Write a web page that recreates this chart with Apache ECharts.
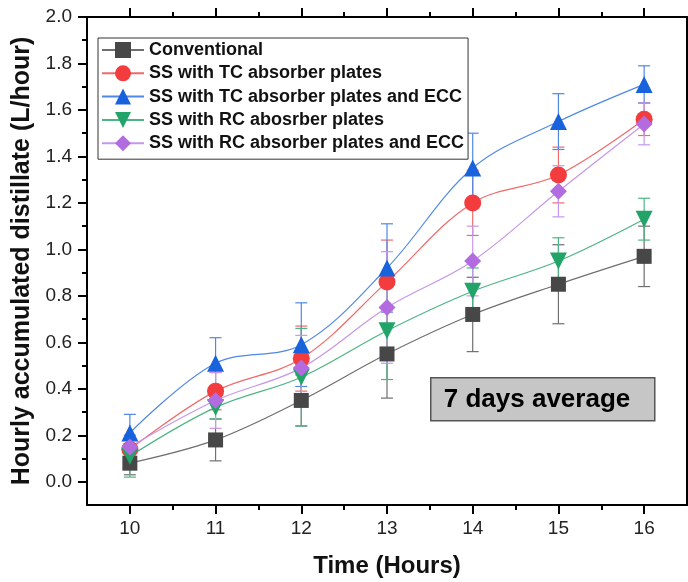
<!DOCTYPE html>
<html>
<head>
<meta charset="utf-8">
<script src="https://cdn.jsdelivr.net/npm/echarts@6/dist/echarts.min.js"></script>
<style>
  html, body { margin: 0; padding: 0; background: #fff; }
  #chart { width: 688px; height: 582px; }
</style>
</head>
<body>
<div id="chart"></div>
<script>
// 时间 (x) 与刻度
var hours = [10, 11, 12, 13, 14, 15, 16];
var xMajorTicks = [10, 11, 12, 13, 14, 15, 16];
var xMinorTicks = [10.5, 11.5, 12.5, 13.5, 14.5, 15.5];
var yMajorTicks = [0.0, 0.2, 0.4, 0.6, 0.8, 1.0, 1.2, 1.4, 1.6, 1.8, 2.0];
var yMinorTicks = [0.1, 0.3, 0.5, 0.7, 0.9, 1.1, 1.3, 1.5, 1.7, 1.9];

// 各系列数值 + 误差
var conventional     = [0.08, 0.18, 0.35, 0.55, 0.72, 0.85, 0.97];
var conventionalErr  = [0.05, 0.09, 0.11, 0.19, 0.16, 0.17, 0.13];
var tcPlates         = [0.14, 0.39, 0.53, 0.86, 1.20, 1.32, 1.56];
var tcPlatesErr      = [0.05, 0.08, 0.14, 0.18, 0.14, 0.12, 0.07];
var tcPlatesEcc      = [0.21, 0.51, 0.59, 0.92, 1.35, 1.55, 1.71];
var tcPlatesEccErr   = [0.08, 0.11, 0.18, 0.19, 0.15, 0.12, 0.08];
var rcPlates         = [0.11, 0.32, 0.45, 0.65, 0.82, 0.95, 1.13];
var rcPlatesErr      = [0.09, 0.05, 0.21, 0.21, 0.10, 0.10, 0.09];
var rcPlatesEcc      = [0.15, 0.35, 0.49, 0.75, 0.95, 1.25, 1.54];
var rcPlatesEccErr   = [0.05, 0.12, 0.14, 0.24, 0.15, 0.11, 0.09];

var names = [
    'Conventional',
    'SS with TC absorber plates',
    'SS with TC absorber plates and ECC',
    'SS with RC abosrber plates',
    'SS with RC absorber plates and ECC'
];

var FONT = '"Liberation Sans", Arial, sans-serif';

var myEcharts = echarts.init(document.getElementById('chart'));

// 一条曲线 + 对应误差棒
function makeSeries(name, values, errs, symbol, marker, line) {
    var pts = hours.map(function (h, i) { return [h, values[i]]; });
    var bars = hours.map(function (h, i) { return [h, values[i], errs[i]]; });
    return [{
        name: name,
        type: 'line',
        smooth: 0.35,
        data: pts,
        symbol: symbol,
        symbolSize: symbol === 'rect' ? 15 : 17,
        z: 5,
        itemStyle: { color: marker, borderColor: marker, borderWidth: 0, opacity: 1 },
        lineStyle: { color: line, width: 1.2 }
    }, {
        name: name,
        type: 'custom',
        z: 3,
        data: bars,
        renderItem: function (params, api) {
            var x = api.value(0), y = api.value(1), e = api.value(2);
            var hi = api.coord([x, y + e]);
            var lo = api.coord([x, y - e]);
            var w = 6;
            var st = { stroke: line, lineWidth: 1.2 };
            return {
                type: 'group',
                children: [
                    { type: 'line', shape: { x1: hi[0], y1: hi[1], x2: lo[0], y2: lo[1] }, style: st },
                    { type: 'line', shape: { x1: hi[0] - w, y1: hi[1], x2: hi[0] + w, y2: hi[1] }, style: st },
                    { type: 'line', shape: { x1: lo[0] - w, y1: lo[1], x2: lo[0] + w, y2: lo[1] }, style: st }
                ]
            };
        }
    }];
}

var series = [].concat(
    makeSeries(names[0], conventional, conventionalErr, 'rect', '#474747', '#6f6f6f'),
    makeSeries(names[1], tcPlates, tcPlatesErr, 'circle', '#f23c3e', '#f06a6a'),
    makeSeries(names[2], tcPlatesEcc, tcPlatesEccErr, 'triangle', '#1862dc', '#4f88e6'),
    makeSeries(names[3], rcPlates, rcPlatesErr, 'path://M0,0 L10,0 L5,9 Z', '#22a468', '#4db584'),
    makeSeries(names[4], rcPlatesEcc, rcPlatesEccErr, 'diamond', '#b36be0', '#c596ea')
);

var axisLine = { show: true, onZero: false, lineStyle: { color: '#000', width: 2 } };
var noLine = { show: false, onZero: false };
var tickStyle = { color: '#000', width: 2 };

var option = {
    animation: false,
    backgroundColor: '#fff',
    grid: { left: 87, right: 1, top: 17, bottom: 77, outerBoundsMode: 'none' },
    legend: {
        data: names,
        orient: 'vertical',
        left: 98,
        top: 38,
        padding: [3, 4, 7, 3],
        itemGap: 5.3,
        itemWidth: 42,
        itemHeight: 20,
        borderColor: '#333',
        borderWidth: 1,
        backgroundColor: '#fff',
        textStyle: { fontFamily: FONT, fontSize: 18, fontWeight: 'bold', color: '#111' }
    },
    xAxis: [{
        type: 'value', position: 'bottom', min: 9.5, max: 16.5,
        name: 'Time (Hours)', nameLocation: 'middle', nameGap: 49,
        nameTextStyle: { fontFamily: FONT, fontSize: 24, fontWeight: 'bold', color: '#111' },
        axisLine: axisLine,
        axisTick: { show: true, customValues: xMajorTicks, length: 9, lineStyle: tickStyle },
        axisLabel: { customValues: xMajorTicks, margin: 14, fontFamily: FONT, fontSize: 19, color: '#222' },
        splitLine: { show: false }
    }, {
        type: 'value', position: 'bottom', min: 9.5, max: 16.5,
        axisLine: noLine,
        axisTick: { show: true, customValues: xMinorTicks, length: 5, lineStyle: tickStyle },
        axisLabel: { show: false },
        splitLine: { show: false }
    }, {
        type: 'value', position: 'top', min: 9.5, max: 16.5,
        axisLine: axisLine,
        axisTick: { show: true, customValues: xMajorTicks, length: 9, lineStyle: tickStyle },
        axisLabel: { show: false },
        splitLine: { show: false }
    }, {
        type: 'value', position: 'top', min: 9.5, max: 16.5,
        axisLine: noLine,
        axisTick: { show: true, customValues: xMinorTicks, length: 5, lineStyle: tickStyle },
        axisLabel: { show: false },
        splitLine: { show: false }
    }],
    yAxis: [{
        type: 'value', position: 'left', min: -0.1, max: 2.0,
        name: 'Hourly accumulated distillate (L/hour)', nameLocation: 'middle', nameGap: 47,
        nameTextStyle: { fontFamily: FONT, fontSize: 25, fontWeight: 'bold', color: '#111' },
        axisLine: axisLine,
        axisTick: { show: true, customValues: yMajorTicks, length: 9, lineStyle: tickStyle },
        axisLabel: {
            customValues: yMajorTicks, margin: 15, fontFamily: FONT, fontSize: 19, color: '#222',
            formatter: function (v) { return v.toFixed(1); }
        },
        splitLine: { show: false }
    }, {
        type: 'value', position: 'left', min: -0.1, max: 2.0,
        axisLine: noLine,
        axisTick: { show: true, customValues: yMinorTicks, length: 5, lineStyle: tickStyle },
        axisLabel: { show: false },
        splitLine: { show: false }
    }, {
        type: 'value', position: 'right', min: -0.1, max: 2.0,
        axisLine: axisLine,
        axisTick: { show: false },
        axisLabel: { show: false },
        splitLine: { show: false }
    }],
    graphic: [{
        type: 'group',
        left: 430,
        top: 377,
        children: [{
            type: 'rect',
            shape: { x: 0, y: 0, width: 224, height: 43 },
            style: { fill: '#c6c6c6', stroke: '#555', lineWidth: 1.5 }
        }, {
            type: 'text',
            x: 13, y: 22,
            style: {
                text: '7 days average', fill: '#000',
                font: 'bold 26px ' + FONT,
                verticalAlign: 'middle', align: 'left'
            }
        }]
    }],
    series: series
};

myEcharts.setOption(option);
</script>
</body>
</html>
